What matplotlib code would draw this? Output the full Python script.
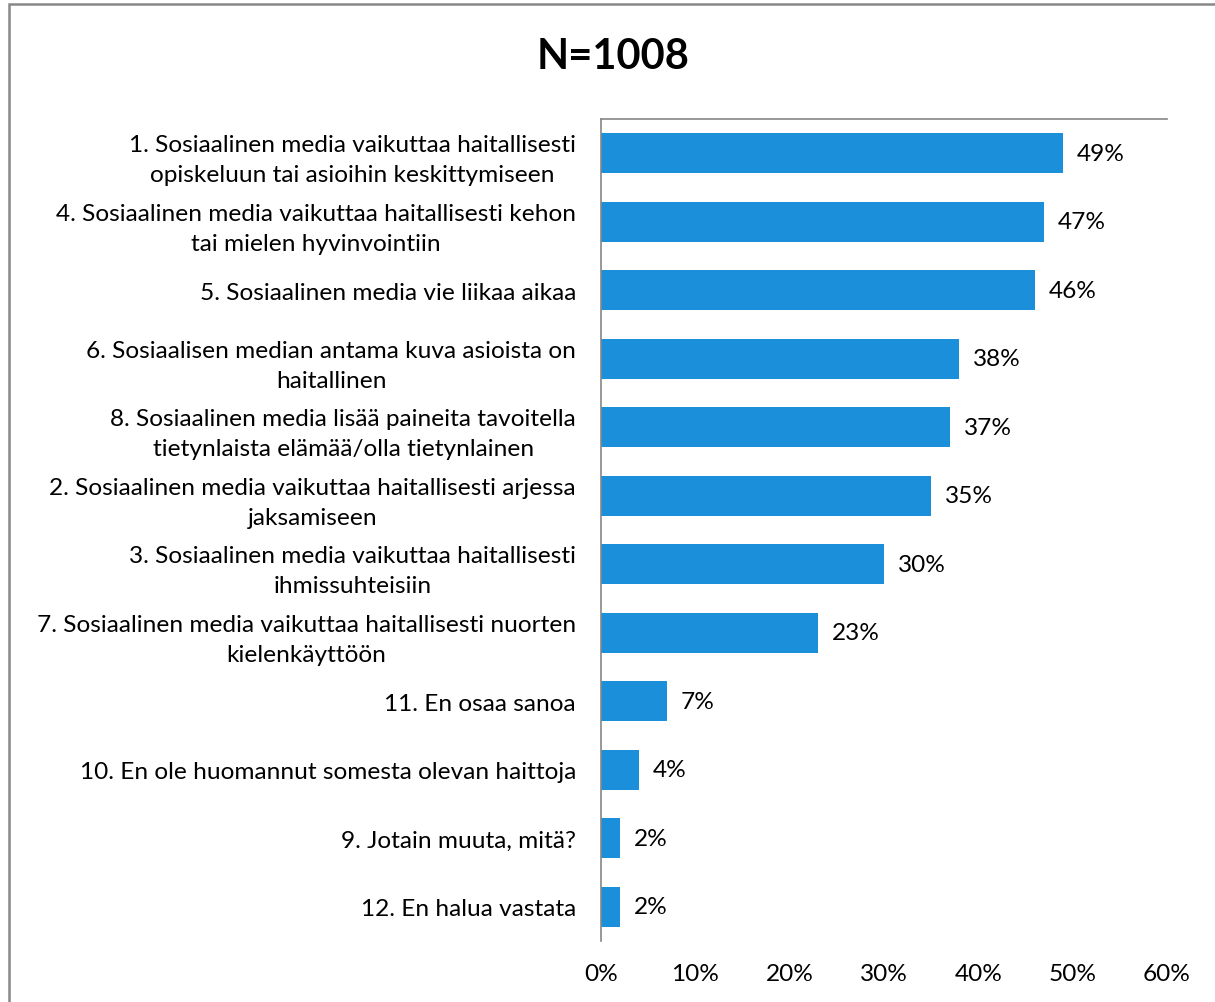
import matplotlib
matplotlib.use("Agg")
import matplotlib.pyplot as plt
from matplotlib.patches import Rectangle

categories = [
    "1. Sosiaalinen media vaikuttaa haitallisesti\nopiskeluun tai asioihin keskittymiseen",
    "4. Sosiaalinen media vaikuttaa haitallisesti kehon\ntai mielen hyvinvointiin",
    "5. Sosiaalinen media vie liikaa aikaa",
    "6. Sosiaalisen median antama kuva asioista on\nhaitallinen",
    "8. Sosiaalinen media lisää paineita tavoitella\ntietynlaista elämää/olla tietynlainen",
    "2. Sosiaalinen media vaikuttaa haitallisesti arjessa\njaksamiseen",
    "3. Sosiaalinen media vaikuttaa haitallisesti\nihmissuhteisiin",
    "7. Sosiaalinen media vaikuttaa haitallisesti nuorten\nkielenkäyttöön",
    "11. En osaa sanoa",
    "10. En ole huomannut somesta olevan haittoja",
    "9. Jotain muuta, mitä?",
    "12. En halua vastata",
]
values = [0.49, 0.47, 0.46, 0.38, 0.37, 0.35, 0.30, 0.23, 0.07, 0.04, 0.02, 0.02]
value_labels = ["49%", "47%", "46%", "38%", "37%", "35%", "30%", "23%", "7%", "4%", "2%", "2%"]
xticks = [0, 0.1, 0.2, 0.3, 0.4, 0.5, 0.6]
xtick_labels = ["0%", "10%", "20%", "30%", "40%", "50%", "60%"]
title = "N=1008"

plt.rcParams['font.family'] = ['Lato', 'DejaVu Sans']
FS = 17.6

fig = plt.figure(figsize=(12.15, 10.03), dpi=100)
ax = fig.add_axes([601/1215, 1-942/1003, (1167-601)/1215, (942-120)/1003])

n = len(categories)
ypos = list(range(n))
ax.barh(ypos, values, height=0.58, color="#1b8fda", zorder=2)
ax.set_ylim(n - 0.5, -0.5)
ax.set_xlim(0, 0.6)
ax.set_yticks(ypos)
ax.set_yticklabels(categories, fontsize=FS, ha='right', multialignment='center',
                   linespacing=1.52)
ax.set_xticks(xticks)
ax.set_xticklabels(xtick_labels, fontsize=FS)
ax.tick_params(axis='y', length=0, pad=18)
ax.tick_params(axis='x', length=0, pad=16)

for s in ['right', 'bottom']:
    ax.spines[s].set_visible(False)
for s in ['left', 'top']:
    ax.spines[s].set_color('#868686')
    ax.spines[s].set_linewidth(1.2)

for y, v, lab in zip(ypos, values, value_labels):
    ax.annotate(lab, (v, y), xytext=(10, 0), textcoords='offset points',
                va='center', ha='left', fontsize=FS)

fig.text(613/1215, 1-57/1003, title, ha='center', va='center', fontsize=30, fontweight='bold')

fig.patches.append(Rectangle((9/1215, -0.05), 1.1, 1-5/1003+0.05, transform=fig.transFigure,
                             fill=False, edgecolor='#888888', linewidth=1.8))

fig.savefig("out.png", dpi=100)
